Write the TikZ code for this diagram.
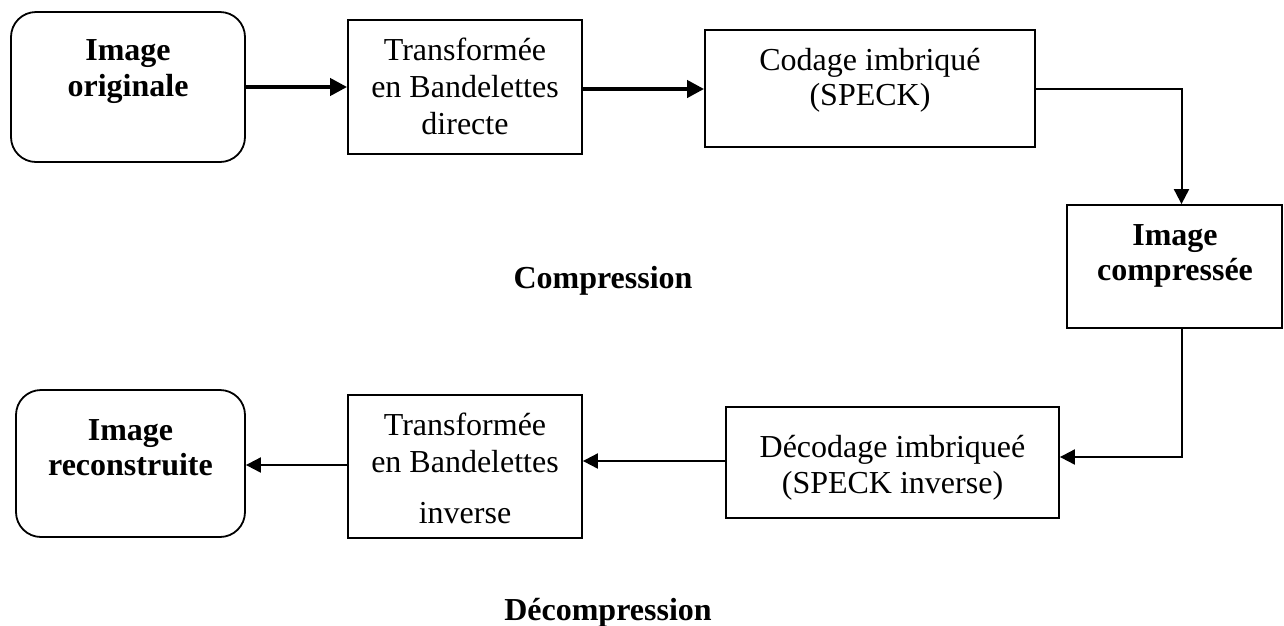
\documentclass[tikz,border=0pt]{standalone}
\usepackage{fontspec}
\setmainfont{Liberation Serif}
\usetikzlibrary{arrows.meta,calc}
\begin{document}
\begin{tikzpicture}[x=1pt,y=-1pt,
  box/.style={draw, line width=1.8pt, inner sep=0pt},
  rbox/.style={box, rounded corners=25pt},
  txt/.style={inner sep=0pt, anchor=base, font=\fontsize{32}{37}\selectfont},
  btxt/.style={inner sep=0pt, anchor=base, font=\fontsize{32}{37}\selectfont\bfseries},
  bigarrow/.style={line width=4pt, -{Triangle[length=17pt,width=17pt]}},
  smallarrow/.style={line width=2pt, -{Triangle[length=15pt,width=15pt]}}
]
\useasboundingbox (0,0) rectangle (1284,625);
% boxes
\node[rbox, minimum width=234pt, minimum height=150pt] (orig) at (128,87) {};
\node[box, minimum width=234pt, minimum height=134pt] (transd) at (465,87) {};
\node[box, minimum width=330pt, minimum height=117pt] (codage) at (870,88.5) {};
\node[box, minimum width=215pt, minimum height=123pt] (compr) at (1174.5,266.5) {};
\node[box, minimum width=333pt, minimum height=111pt] (decod) at (892.5,462.5) {};
\node[box, minimum width=234pt, minimum height=143pt] (transi) at (465,466.5) {};
\node[rbox, minimum width=229pt, minimum height=147pt] (recon) at (130.5,463.5) {};
% texts
\node[btxt] (origA) at (128,60) {Image};
\node[btxt] (origB) at (128,96) {originale};
\node[txt] (transdA) at (465,60) {Transformée};
\node[txt] (transdB) at (465,97) {en Bandelettes};
\node[txt] (transdC) at (465,134) {directe};
\node[txt] (codageA) at (870,70) {Codage imbriqué};
\node[txt] (codageB) at (870,105) {(SPECK)};
\node[btxt] (comprA) at (1175,245) {Image};
\node[btxt] (comprB) at (1175,280) {compressée};
\node[txt] (decodA) at (892.5,457) {Décodage imbriqueé};
\node[txt] (decodB) at (892.5,493) {(SPECK inverse)};
\node[txt] (transiA) at (465,435) {Transformée};
\node[txt] (transiB) at (465,472) {en Bandelettes};
\node[txt] (transiC) at (465,523) {inverse};
\node[btxt] (reconA) at (130.5,440) {Image};
\node[btxt] (reconB) at (130.5,475) {reconstruite};
\node[btxt] (lcomp) at (603,288) {Compression};
\node[btxt] (ldecomp) at (608,620) {Décompression};
% connectors
\draw[bigarrow] (orig.east) -- (transd.west);
\draw[bigarrow] ([yshift=-2pt]transd.east) -- ([yshift=-2pt]transd.east -| codage.west);
\coordinate (ctop) at ([xshift=7pt]compr.north);
\coordinate (cbot) at ([xshift=7pt]compr.south);
\draw[smallarrow] ([yshift=-0.5pt]codage.east) -| (ctop);
\draw[smallarrow] (cbot) |- ([yshift=5.5pt]decod.east);
\draw[smallarrow] ([yshift=1.5pt]decod.west) -- ([yshift=1.5pt]decod.west -| transi.east);
\draw[smallarrow] ([yshift=1.5pt]transi.west) -- ([yshift=1.5pt]transi.west -| recon.east);
\end{tikzpicture}
\end{document}
